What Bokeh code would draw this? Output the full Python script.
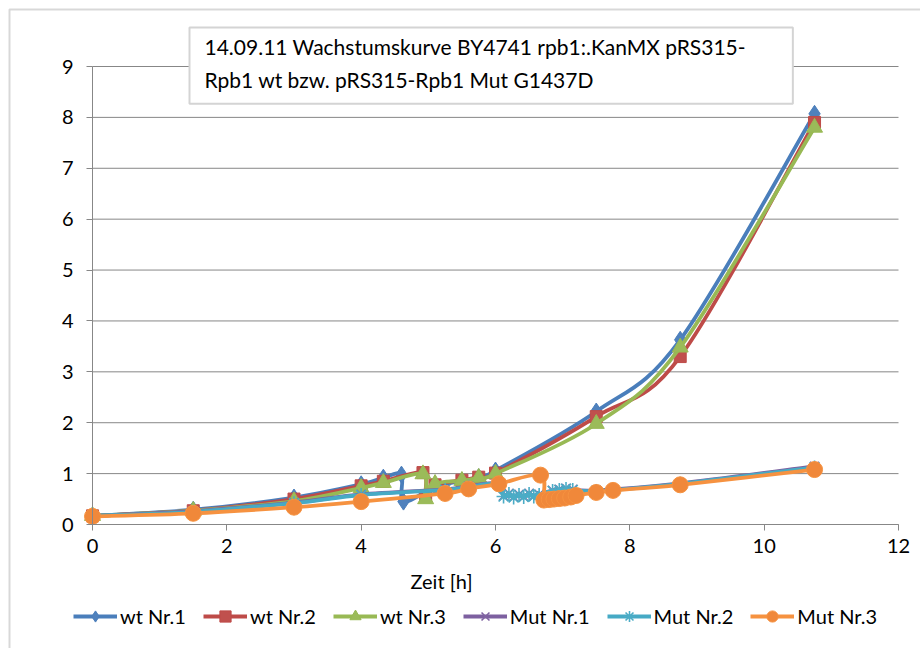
import math
from bokeh.plotting import figure
from bokeh.models import Range1d, Label, Legend, LegendItem, FixedTicker, PolyAnnotation
from bokeh.embed import file_html
from bokeh.resources import INLINE

# ---------------- data ----------------
title_lines = ["14.09.11 Wachstumskurve BY4741 rpb1:.KanMX pRS315-",
               "Rpb1 wt bzw. pRS315-Rpb1 Mut G1437D"]
x_axis_label = "Zeit [h]"
x_ticks = [0, 2, 4, 6, 8, 10, 12]
y_ticks = [0, 1, 2, 3, 4, 5, 6, 7, 8, 9]

series_names = ["wt Nr.1", "wt Nr.2", "wt Nr.3", "Mut Nr.1", "Mut Nr.2", "Mut Nr.3"]

wt1_x = [0, 1.5, 3, 4, 4.33, 4.6, 4.63, 5.1, 5.5, 5.75, 6.0, 7.5, 8.75, 10.75]
wt1_y = [0.17, 0.29, 0.53, 0.79, 0.92, 0.98, 0.45, 0.74, 0.86, 0.93, 1.06, 2.22, 3.63, 8.07]

wt2_x = [0, 1.5, 3, 4, 4.33, 4.92, 4.96, 5.1, 5.5, 5.75, 6.0, 7.5, 8.75, 10.75]
wt2_y = [0.17, 0.27, 0.50, 0.76, 0.85, 1.02, 0.55, 0.78, 0.87, 0.93, 1.01, 2.12, 3.30, 7.90]

wt3_x = [0, 1.5, 3, 4, 4.33, 4.92, 4.96, 5.1, 5.5, 5.75, 6.0, 7.5, 8.75, 10.75]
wt3_y = [0.17, 0.27, 0.46, 0.72, 0.82, 0.99, 0.50, 0.80, 0.86, 0.92, 1.00, 1.98, 3.48, 7.80]

mut1_x = [0, 1.5, 3, 4, 5.25, 5.6, 6.05, 6.12, 6.2, 6.27, 6.35, 6.42, 6.5, 6.57, 6.65,
          6.85, 6.95, 7.05, 7.15, 7.5, 8.75, 10.75]
mut1_y = [0.17, 0.26, 0.43, 0.59, 0.69, 0.75, 0.81, 0.56, 0.61, 0.54, 0.59, 0.55, 0.61, 0.56, 0.59,
          0.67, 0.69, 0.71, 0.69, 0.67, 0.81, 1.14]

mut2_x = [0, 1.5, 3, 4, 5.25, 5.6, 6.05, 6.12, 6.2, 6.27, 6.35, 6.42, 6.5, 6.57, 6.65,
          6.85, 6.95, 7.05, 7.15, 7.5, 8.75, 10.75]
mut2_y = [0.17, 0.25, 0.42, 0.58, 0.68, 0.74, 0.80, 0.55, 0.60, 0.53, 0.58, 0.54, 0.60, 0.55, 0.58,
          0.66, 0.68, 0.70, 0.68, 0.66, 0.80, 1.12]

mut3_x = [0, 1.5, 3, 4, 5.25, 5.6, 6.05, 6.67, 6.72, 6.8, 6.87, 6.95, 7.03, 7.12, 7.2,
          7.5, 7.75, 8.75, 10.75]
mut3_y = [0.16, 0.22, 0.34, 0.45, 0.61, 0.70, 0.80, 0.97, 0.48, 0.49, 0.50, 0.51, 0.52, 0.54, 0.57,
          0.63, 0.67, 0.78, 1.08]

# ---------------- styles ----------------
FONT = "Lato"
styles = [
    dict(line="#4A7EBB", fill="#4F81BD", marker="diamond", size=17),
    dict(line="#BE4B48", fill="#C0504D", marker="square", size=12),
    dict(line="#98B954", fill="#9BBB59", marker="triangle", size=16),
    dict(line="#7D60A0", fill="#8064A2", marker="x", size=13),
    dict(line="#46AAC5", fill="#4BACC6", marker="asterisk", size=14),
    dict(line="#F69240", fill="#F0883A", marker="circle", size=16),
]
data = [(wt1_x, wt1_y), (wt2_x, wt2_y), (wt3_x, wt3_y),
        (mut1_x, mut1_y), (mut2_x, mut2_y), (mut3_x, mut3_y)]


def smooth(xs, ys):
    """Cubic Bezier segments through the data points (Catmull-Rom style)."""
    n = len(xs)
    out = dict(x0=[], y0=[], x1=[], y1=[], cx0=[], cy0=[], cx1=[], cy1=[])
    for i in range(n - 1):
        a = i - 1 if i > 0 else i
        d = i + 2 if i + 2 < n else i + 1
        out["x0"].append(xs[i]); out["y0"].append(ys[i])
        out["x1"].append(xs[i + 1]); out["y1"].append(ys[i + 1])
        out["cx0"].append(xs[i] + (xs[i + 1] - xs[a]) / 6.0)
        out["cy0"].append(ys[i] + (ys[i + 1] - ys[a]) / 6.0)
        out["cx1"].append(xs[i + 1] - (xs[d] - xs[i]) / 6.0)
        out["cy1"].append(ys[i + 1] - (ys[d] - ys[i]) / 6.0)
    return out


# The frame fills the whole canvas; the axes are pinned at x=0 / y=0 so that the
# title box, axis title and legend (all annotations) lie inside the frame.
W, H = 920, 648
PX_X0, PX_X1 = 92, 898          # pixel columns of x = 0 and x = 12
PX_Y0, PX_Y9 = 524, 66          # pixel rows of y = 0 and y = 9
sx = (PX_X1 - PX_X0) / 12.0
sy = (PX_Y0 - PX_Y9) / 9.0
x_range = Range1d(-PX_X0 / sx, 12 + (W - PX_X1) / sx)
y_range = Range1d(-(H - PX_Y0) / sy, PX_Y0 / sy)

p = figure(width=W, height=H, x_range=x_range, y_range=y_range,
           output_backend="svg", toolbar_location=None,
           min_border_left=0, min_border_right=0, min_border_top=0, min_border_bottom=0)
p.background_fill_color = "white"
p.border_fill_color = "white"
p.outline_line_color = None
p.grid.visible = False

# horizontal gridlines at the y ticks, spanning the x-axis extent
p.segment(x0=[x_ticks[0]] * len(y_ticks), x1=[x_ticks[-1]] * len(y_ticks),
          y0=y_ticks, y1=y_ticks, line_color="#878787", line_width=1)

p.xaxis.ticker = FixedTicker(ticks=x_ticks)
p.yaxis.ticker = FixedTicker(ticks=y_ticks)
p.xaxis.fixed_location = 0
p.yaxis.fixed_location = 0
p.xaxis.bounds = (x_ticks[0], x_ticks[-1])
p.yaxis.bounds = (y_ticks[0], y_ticks[-1])
for ax in (p.xaxis, p.yaxis):
    ax.axis_line_color = "#878787"
    ax.axis_line_width = 1
    ax.major_tick_line_color = "#878787"
    ax.major_tick_out = 6
    ax.major_tick_in = 0
    ax.minor_tick_line_color = None
    ax.major_label_text_font = FONT
    ax.major_label_text_font_size = "20px"
    ax.major_label_text_color = "#000000"
p.yaxis.major_label_standoff = 13
p.xaxis.major_label_standoff = 8

items = []
for name, st, (xs, ys) in zip(series_names, styles, data):
    seg = smooth(xs, ys)
    p.bezier(x0=seg["x0"], y0=seg["y0"], x1=seg["x1"], y1=seg["y1"],
             cx0=seg["cx0"], cy0=seg["cy0"], cx1=seg["cx1"], cy1=seg["cy1"],
             line_color=st["line"], line_width=3.8)
    if st["marker"] in ("x", "asterisk"):
        sc = p.scatter(xs, ys, marker=st["marker"], size=st["size"],
                       line_color=st["fill"], line_width=1.6)
    else:
        sc = p.scatter(xs, ys, marker=st["marker"], size=st["size"],
                       fill_color=st["fill"], line_color=st["line"], line_width=1)
    key = p.line(x=[float("nan")], y=[float("nan")], line_color=st["line"], line_width=3.8)
    items.append(LegendItem(label=name, renderers=[key, sc]))

legend = Legend(items=items, orientation="horizontal", location=(73, 18),
                glyph_width=44, glyph_height=28, label_standoff=3, spacing=17, padding=0,
                margin=0, border_line_color=None, background_fill_alpha=0,
                label_text_font=FONT, label_text_font_size="20px", label_text_color="#000000")
p.add_layout(legend)

# x-axis title, left of the frame centre as in the original
p.add_layout(Label(x=(441 - PX_X0) / sx, y=-(580 - PX_Y0) / sy, text=x_axis_label,
                   text_align="center", text_baseline="middle",
                   text_font=FONT, text_font_size="20px", text_color="#000000"))

# title box
p.add_layout(Label(x=(189 - PX_X0) / sx, y=(PX_Y0 - 27) / sy, text="\n".join(title_lines),
                   text_align="left", text_baseline="top",
                   text_font=FONT, text_font_size="21px", text_color="#000000", text_line_height=1.33,
                   background_fill_color="white", border_line_color="#d4d4d4", border_line_width=2,
                   padding=dict(left=15, right=47, top=6, bottom=12)))

# outer chart border (left and top edges visible, the others run off the page)
bx0, by0 = (9 - PX_X0) / sx, (PX_Y0 - 9) / sy
p.add_layout(PolyAnnotation(xs=[bx0, 30, 30, bx0], ys=[by0, by0, -20, -20],
                            fill_alpha=0, line_color="#7f7f7f", line_width=2))

open("out.html", "w").write(file_html(p, INLINE))
